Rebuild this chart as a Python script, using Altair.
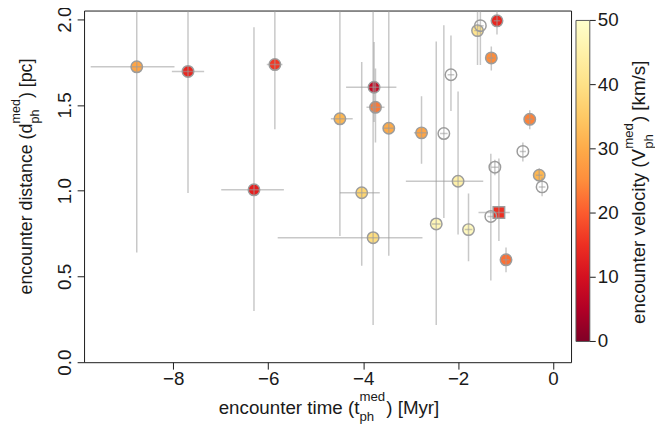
import altair as alt
import pandas as pd

# ---------------- data ----------------
# stars with a measured encounter velocity (filled markers)
t_med = [-8.77, -7.69, -6.30, -5.86, -4.49, -3.77, -3.74, -3.46, -2.77, -4.03, -3.79,
         -2.00, -2.46, -1.78, -1.59, -1.18, -1.30, -0.49, -0.29, -1.14, -0.99]
d_med = [1.722, 1.695, 1.005, 1.735, 1.419, 1.603, 1.486, 1.364, 1.337, 0.988, 0.726,
         1.055, 0.806, 0.773, 1.933, 1.990, 1.774, 1.416, 1.090, 0.873, 0.597]
v_med = [29, 14, 13, 16, 32, 8, 23, 30, 29, 37, 39,
         45, 47, 48, 41, 14, 25, 24, 32, 15, 22]
t_lo = [-9.74, -8.03, -6.99, -6.03, -4.68, -4.36, -3.93, -3.58, -2.93, -4.49, -5.80,
        -3.10, -2.55, -1.86, -1.66, -1.25, -1.37, -0.56, -0.36, -1.57, -1.06]
t_hi = [-7.975, -7.35, -5.67, -5.70, -4.22, -3.30, -3.55, -3.34, -2.64, -3.65, -2.75,
        -1.47, -2.37, -1.70, -1.52, -1.11, -1.23, -0.42, -0.22, -0.91, -0.92]
d_lo = [0.64, 0.987, 0.298, 1.358, 0.735, 1.40, 1.281, 0.62, 1.157, 0.562, 0.217,
        0.745, 0.217, 0.588, 1.733, 1.91, 1.70, 1.358, 1.05, 0.706, 0.524]
d_hi = [2.5, 2.5, 1.952, 2.5, 2.5, 1.866, 1.712, 2.5, 1.55, 1.75, 2.5,
        1.578, 1.87, 0.984, 2.5, 2.077, 1.84, 1.469, 1.13, 1.187, 0.668]
marker = ["circle"] * 19 + ["square", "circle"]

# stars without a velocity (open circles)
t_open = [-2.30, -2.15, -1.53, -1.225, -0.635, -0.23, -1.31]
d_open = [1.333, 1.676, 1.962, 1.137, 1.229, 1.022, 0.85]
t_open_lo = [-2.38, -2.22, -1.60, -1.30, -0.70, -0.30, -1.38]
t_open_hi = [-2.22, -2.08, -1.46, -1.15, -0.57, -0.16, -1.24]
d_open_lo = [0.84, 1.464, 1.733, 1.09, 1.17, 0.967, 0.476]
d_open_hi = [1.965, 1.904, 2.5, 1.18, 1.281, 1.077, 1.215]

x_ticks = [-8, -6, -4, -2, 0]
y_ticks = [0.0, 0.5, 1.0, 1.5, 2.0]
cbar_ticks = [0, 10, 20, 30, 40, 50]
# reversed YlOrRd palette, evenly spread over 0..50 km/s
cmap_stops = [0, 6.25, 12.5, 18.75, 25, 31.25, 37.5, 43.75, 50]
cmap_colors = ["#800026", "#bd0026", "#e31a1c", "#fc4e2a", "#fd8d3c",
               "#feb24c", "#fed976", "#ffeda0", "#ffffcc"]

# ---------------- styling ----------------
FONT = "Liberation Sans"
INK = "#1a1a1a"
F = 19      # main font size
W, H = 493, 356

filled = pd.DataFrame(dict(t=t_med, d=d_med, v=v_med, shape=marker))
opened = pd.DataFrame(dict(t=t_open, d=d_open))
bars = pd.DataFrame(dict(
    t=t_med + t_open, d=d_med + d_open,
    tlo=t_lo + t_open_lo, thi=t_hi + t_open_hi,
    dlo=d_lo + d_open_lo, dhi=d_hi + d_open_hi))

xs = alt.Scale(domain=[-9.88, 0.38], nice=False, zero=False)
ys = alt.Scale(domain=[0, 2.05], nice=False, zero=False)
xaxis = alt.Axis(values=x_ticks, format="d", title=None, grid=False, domain=False,
                 tickSize=7, tickColor=INK, labelColor=INK, labelFont=FONT,
                 labelFontSize=F, labelBaseline="middle", labelPadding=10)
yaxis = alt.Axis(values=y_ticks, format=".1f", title=None, grid=False, domain=False,
                 tickSize=7, tickColor=INK, labelColor=INK, labelFont=FONT,
                 labelFontSize=F, labelAngle=270, labelAlign="center",
                 labelBaseline="middle", labelPadding=13)

BAR = dict(color="#9a9a9a", opacity=0.55, strokeWidth=1.5, clip=True)

pts = alt.Chart(filled).mark_point(filled=True, size=135, stroke="#9c9c9c",
                                   strokeWidth=1.5, opacity=1).encode(
    x=alt.X("t:Q", scale=xs, axis=xaxis),
    y=alt.Y("d:Q", scale=ys, axis=yaxis),
    color=alt.Color("v:Q",
                    scale=alt.Scale(domain=cmap_stops, range=cmap_colors, interpolate="rgb"),
                    legend=alt.Legend(orient="none", legendX=498, legendY=10,
                                      direction="vertical", title=None,
                                      gradientLength=325, gradientThickness=14,
                                      gradientStrokeColor="#555555", gradientStrokeWidth=1,
                                      values=cbar_ticks, labelExpr="''", padding=0)),
    shape=alt.Shape("shape:N", scale=alt.Scale(domain=["circle", "square"],
                                                range=["circle", "square"]), legend=None),
)

opn = alt.Chart(opened).mark_point(filled=False, size=135, color="#9c9c9c",
                                   strokeWidth=1.5, opacity=1).encode(
    x=alt.X("t:Q", scale=xs, axis=xaxis),
    y=alt.Y("d:Q", scale=ys, axis=None),
)

hbar = alt.Chart(bars).mark_rule(**BAR).encode(
    x=alt.X("tlo:Q", scale=xs, axis=xaxis), x2="thi:Q",
    y=alt.Y("d:Q", scale=ys, axis=None))
vbar = alt.Chart(bars).mark_rule(**BAR).encode(
    x=alt.X("t:Q", scale=xs, axis=xaxis),
    y=alt.Y("dlo:Q", scale=ys, axis=None), y2="dhi:Q")

# colour-bar ticks and labels (own scale matched to the gradient: 0 -> y=335, 50 -> y=10)
cbs = alt.Scale(domain=[-3.231, 51.538], nice=False, zero=False)
cbdf = pd.DataFrame(dict(v=cbar_ticks))
cb_ticks = alt.Chart(cbdf).mark_rule(color=INK, strokeWidth=1).encode(
    x=alt.value(512), x2=alt.value(518),
    y=alt.Y("v:Q", scale=cbs, axis=None))
cb_labels = alt.Chart(cbdf).mark_text(font=FONT, fontSize=F, color=INK, align="left",
                                      baseline="middle").encode(
    x=alt.value(520), y=alt.Y("v:Q", scale=cbs, axis=None), text=alt.Text("v:Q", format="d"))

# ---------------- axis titles with stacked super/subscripts ----------------
AW = {" ": 278, "(": 333, ")": 333, "[": 278, "]": 278, "/": 278, "a": 556, "c": 500,
      "d": 556, "e": 556, "h": 556, "i": 222, "k": 500, "l": 222, "m": 833, "n": 556,
      "o": 556, "p": 556, "r": 333, "s": 500, "t": 278, "u": 556, "v": 500, "y": 500,
      "M": 833, "V": 667}


def tw(s, size):
    return sum(AW.get(c, 556) for c in s) * size / 1000.0


one = pd.DataFrame({"k": [0]})


def txt(s, x, y, size, angle=0):
    return alt.Chart(one).mark_text(text=s, font=FONT, fontSize=size, color=INK,
                                    align="left", baseline="alphabetic",
                                    angle=angle).encode(x=alt.value(x), y=alt.value(y))


def title_h(a, b, cx, base, f=F):
    s = f * 0.705
    total = tw(a, f) + tw("med", s) + 1 + tw(b, f)
    x0 = cx - total / 2
    x1 = x0 + tw(a, f)
    x2 = x1 + tw("med", s) + 1
    return [txt(a, x0, base, f), txt("med", x1, base - 0.66 * f, s),
            txt("ph", x1, base + 0.4 * f, s), txt(b, x2, base, f)]


def title_v(a, b, cy, base, f=F):
    s = f * 0.705
    total = tw(a, f) + tw("med", s) + 1 + tw(b, f)
    y0 = cy + total / 2
    y1 = y0 - tw(a, f)
    y2 = y1 - tw("med", s) - 1
    return [txt(a, base, y0, f, 270), txt("med", base - 0.66 * f, y1, s, 270),
            txt("ph", base + 0.4 * f, y1, s, 270), txt(b, base, y2, f, 270)]


titles = (title_h("encounter time (t", ") [Myr]", 248, 408)
          + title_v("encounter distance (d", ") [pc]", 168, -53, 18)
          + title_v("encounter velocity (V", ") [km/s]", 184, 568))

chart = alt.layer(pts, opn, hbar, vbar, cb_ticks, cb_labels, *titles).resolve_scale(
    y="independent", color="independent", shape="independent"
).properties(
    width=W, height=H,
    autosize=alt.AutoSizeParams(type="none"),
    padding={"left": 77, "top": 0, "right": 85, "bottom": 62},
).configure_view(stroke=INK, strokeWidth=1)

chart.save("out.html", embed_options={"renderer": "svg", "actions": False})
